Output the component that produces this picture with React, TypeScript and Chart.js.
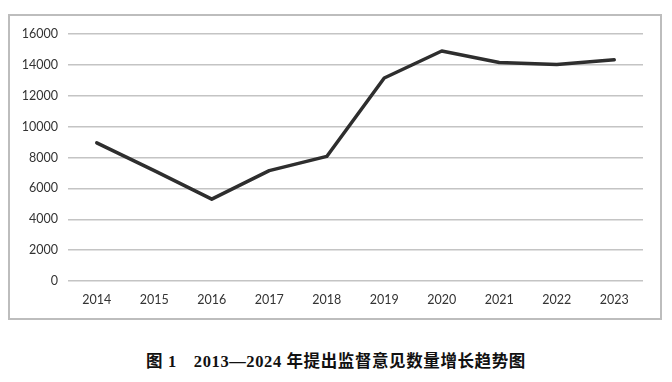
import React, { useEffect, useRef } from "react";
import { Chart, registerables } from "chart.js";

Chart.register(...registerables);

const years = ["2014", "2015", "2016", "2017", "2018", "2019", "2020", "2021", "2022", "2023"];
const counts = [8950, 7150, 5300, 7150, 8070, 13150, 14900, 14150, 14030, 14330];
const yMin = 0;
const yMax = 16000;
const yStep = 2000;
const caption = "图 1　2013—2024 年提出监督意见数量增长趋势图";

export default function App() {
  const ref = useRef<HTMLCanvasElement | null>(null);

  useEffect(() => {
    if (!ref.current) return;
    const tickFont = { family: "Lato, 'Open Sans', sans-serif", size: 12.5 };
    const chart = new Chart(ref.current, {
      type: "line",
      data: {
        labels: years,
        datasets: [
          {
            data: counts,
            borderColor: "#2e2e2e",
            borderWidth: 3.5,
            pointRadius: 0,
            tension: 0,
            borderJoinStyle: "round",
            borderCapStyle: "round",
            fill: false,
          },
        ],
      },
      options: {
        responsive: false,
        animation: false,
        layout: { padding: { left: 0, top: 18, right: 17, bottom: 0 } },
        plugins: { legend: { display: false }, tooltip: { enabled: false } },
        scales: {
          x: {
            offset: true,
            grid: { display: false, drawTicks: false },
            border: { display: false },
            ticks: { padding: 11, color: "#333", font: tickFont, maxRotation: 0 },
            afterFit: (s: any) => {
              s.height = 37;
            },
          },
          y: {
            min: yMin,
            max: yMax,
            grid: { color: "#c4c4c4", lineWidth: 1.5, drawTicks: false },
            border: { display: false },
            ticks: {
              stepSize: yStep,
              padding: 10,
              color: "#333",
              font: tickFont,
              callback: (v: any) => String(v),
            },
            afterFit: (s: any) => {
              s.width = 58;
            },
          },
        },
      },
    });
    return () => chart.destroy();
  }, []);

  return (
    <div style={{ width: 656 }}>
      <div
        style={{
          marginTop: 6,
          width: 650,
          height: 302,
          border: "2px solid #bdbdbd",
        }}
      >
        <canvas ref={ref} width={650} height={302} style={{ display: "block" }} />
      </div>
      <div
        style={{
          marginTop: 31,
          textAlign: "center",
          fontFamily: "'Liberation Serif', 'Noto Sans CJK SC', serif",
          fontWeight: "bold",
          fontSize: 16.5,
          letterSpacing: 0.6,
          color: "#111",
          lineHeight: "22px",
        }}
      >
        {caption}
      </div>
    </div>
  );
}
